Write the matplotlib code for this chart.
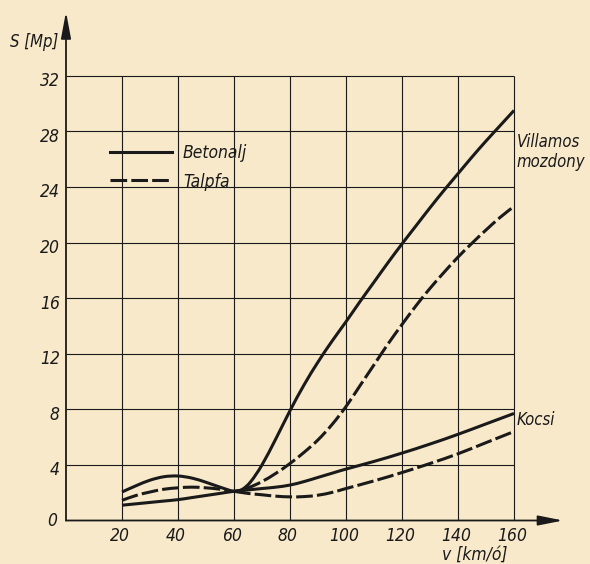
import matplotlib
matplotlib.use("Agg")
import numpy as np
import matplotlib.pyplot as plt
from matplotlib.font_manager import FontProperties
from matplotlib.path import Path
from matplotlib.patches import PathPatch
from matplotlib.lines import Line2D

# ---------------- data ----------------
x_ticks = [20, 40, 60, 80, 100, 120, 140, 160]
y_ticks = [0, 4, 8, 12, 16, 20, 24, 28, 32]
y_tick_labels = ["0", "4", "8", "12", "16", "20", "24", "28", "32"]

# Villamos mozdony - Betonalj (solid)
vm_bet_x = [20, 25, 30, 35, 40, 45, 50, 55, 60, 63, 66, 70, 75, 80, 85, 90, 95,
            100, 105, 110, 115, 120, 125, 130, 135, 140, 145, 150, 155, 160]
vm_bet_y = [2.05, 2.5, 2.9, 3.15, 3.2, 3.05, 2.75, 2.4, 2.1, 2.25, 2.8, 4.0, 5.9,
            7.9, 9.75, 11.4, 12.9, 14.3, 15.75, 17.15, 18.55, 19.9, 21.2, 22.5,
            23.75, 24.95, 26.15, 27.3, 28.4, 29.5]

# Villamos mozdony - Talpfa (dashed)
vm_tal_x = [20, 25, 30, 35, 40, 45, 50, 55, 60, 65, 70, 75, 80, 85, 90, 95,
            100, 105, 110, 115, 120, 125, 130, 135, 140, 145, 150, 155, 160]
vm_tal_y = [1.45, 1.8, 2.05, 2.25, 2.35, 2.4, 2.35, 2.25, 2.1, 2.35, 2.8, 3.4,
            4.1, 4.9, 5.8, 6.9, 8.2, 9.7, 11.2, 12.7, 14.1, 15.45, 16.7, 17.85,
            18.95, 19.95, 20.9, 21.8, 22.6]

# Kocsi - Betonalj (solid)
k_bet_x = [20, 25, 30, 35, 40, 45, 50, 55, 60, 65, 70, 75, 80, 85, 90, 95,
           100, 110, 120, 130, 140, 150, 160]
k_bet_y = [1.1, 1.2, 1.3, 1.4, 1.5, 1.65, 1.8, 1.95, 2.1, 2.2, 2.3, 2.4, 2.55,
           2.8, 3.1, 3.4, 3.7, 4.25, 4.85, 5.5, 6.2, 6.95, 7.7]

# Kocsi - Talpfa (dashed)
k_tal_x = [60, 65, 70, 75, 80, 85, 90, 95, 100, 110, 120, 130, 140, 150, 160]
k_tal_y = [2.1, 1.95, 1.85, 1.75, 1.7, 1.72, 1.82, 2.02, 2.3, 2.85, 3.45, 4.1,
           4.8, 5.6, 6.4]

legend_labels = ["Betonalj", "Talpfa"]
y_label = "S [Mp]"
x_label = "v [km/ó]"
curve_label_top = "Villamos\nmozdony"
curve_label_bottom = "Kocsi"

# ---------------- style ----------------
plt.rcParams["lines.scale_dashes"] = False
paper = "#f8e9ca"
ink = "#1a1a1a"
fp = FontProperties(family="DejaVu Sans", style="italic", stretch="condensed", size=12.5)
fp_small = FontProperties(family="DejaVu Sans", style="italic", stretch="condensed", size=12)

fig = plt.figure(figsize=(5.90, 5.64), dpi=100, facecolor=paper)
ax = fig.add_axes([66 / 590, 43.5 / 564, 504 / 590, 514.3 / 564])
ax.set_facecolor(paper)
ax.set_xlim(0, 180)
ax.set_ylim(0, 37)
for s in ax.spines.values():
    s.set_visible(False)
ax.set_xticks([])
ax.set_yticks([])

# grid
ax.hlines(y_ticks[1:], 0, x_ticks[-1], color=ink, lw=0.8, zorder=1)
ax.vlines(x_ticks, 0, y_ticks[-1], color=ink, lw=0.8, zorder=1)

# axes with arrows
ax.annotate("", xy=(177.5, 0), xytext=(0, 0),
            arrowprops=dict(arrowstyle="-|>,head_length=1.5,head_width=0.3",
                            lw=1.3, color=ink, shrinkA=0, shrinkB=0),
            annotation_clip=False, zorder=3)
ax.annotate("", xy=(0, 36.6), xytext=(0, 0),
            arrowprops=dict(arrowstyle="-|>,head_length=1.6,head_width=0.3",
                            lw=1.3, color=ink, shrinkA=0, shrinkB=0),
            annotation_clip=False, zorder=3)


def smooth_path(xs, ys):
    """Catmull-Rom curve through the read points, as cubic Bezier path."""
    p = np.column_stack([xs, ys]).astype(float)
    n = len(p)
    verts = [p[0]]
    codes = [Path.MOVETO]
    for i in range(n - 1):
        p0 = p[i - 1] if i > 0 else p[i]
        p1 = p[i]
        p2 = p[i + 1]
        p3 = p[i + 2] if i + 2 < n else p[i + 1]
        c1 = p1 + (p2 - p0) / 6.0
        c2 = p2 - (p3 - p1) / 6.0
        verts += [c1, c2, p2]
        codes += [Path.CURVE4] * 3
    return Path(verts, codes)


lw = 2.2
dash = (0, (12, 3))


def draw(xs, ys, ls, z):
    patch = PathPatch(smooth_path(xs, ys), fill=False, edgecolor=ink, lw=lw,
                      linestyle=ls, capstyle="butt", joinstyle="round", zorder=z)
    ax.add_patch(patch)


draw(k_tal_x, k_tal_y, dash, 4)
draw(vm_tal_x, vm_tal_y, dash, 4)
draw(k_bet_x, k_bet_y, "-", 5)
draw(vm_bet_x, vm_bet_y, "-", 5)

handles = [Line2D([], [], color=ink, lw=lw, ls="-"),
           Line2D([], [], color=ink, lw=lw, ls=dash)]
leg = ax.legend(handles, legend_labels,
                loc="upper left", bbox_to_anchor=(15.7, 27.1), bbox_transform=ax.transData,
                frameon=False, prop=fp, handlelength=3.6, handletextpad=0.6,
                labelspacing=0.62, borderpad=0, borderaxespad=0)
for t in leg.get_texts():
    t.set_color(ink)

# tick labels
for v, lab in zip(y_ticks, y_tick_labels):
    if v == 0:
        ax.text(-3.2, -0.07, lab, ha="right", va="center", fontproperties=fp, color=ink, clip_on=False)
    else:
        ax.text(-2.2, v - 0.4, lab, ha="right", va="center", fontproperties=fp, color=ink, clip_on=False)
for v in x_ticks:
    ax.text(v - 0.8, -1.15, str(v), ha="center", va="center", fontproperties=fp, color=ink, clip_on=False)

# axis labels
ax.text(-11.5, 34.4, y_label, ha="center", va="center", fontproperties=fp_small, color=ink, clip_on=False)
ax.text(146, -2.45, x_label, ha="center", va="center", fontproperties=fp, color=ink, clip_on=False)

# curve labels
ax.text(161, 27.9, curve_label_top, ha="left", va="top", fontproperties=fp_small,
        color=ink, linespacing=1.15, clip_on=False)
ax.text(161, 7.2, curve_label_bottom, ha="left", va="center", fontproperties=fp_small,
        color=ink, clip_on=False)

fig.savefig("out.png", dpi=100, facecolor=paper)
